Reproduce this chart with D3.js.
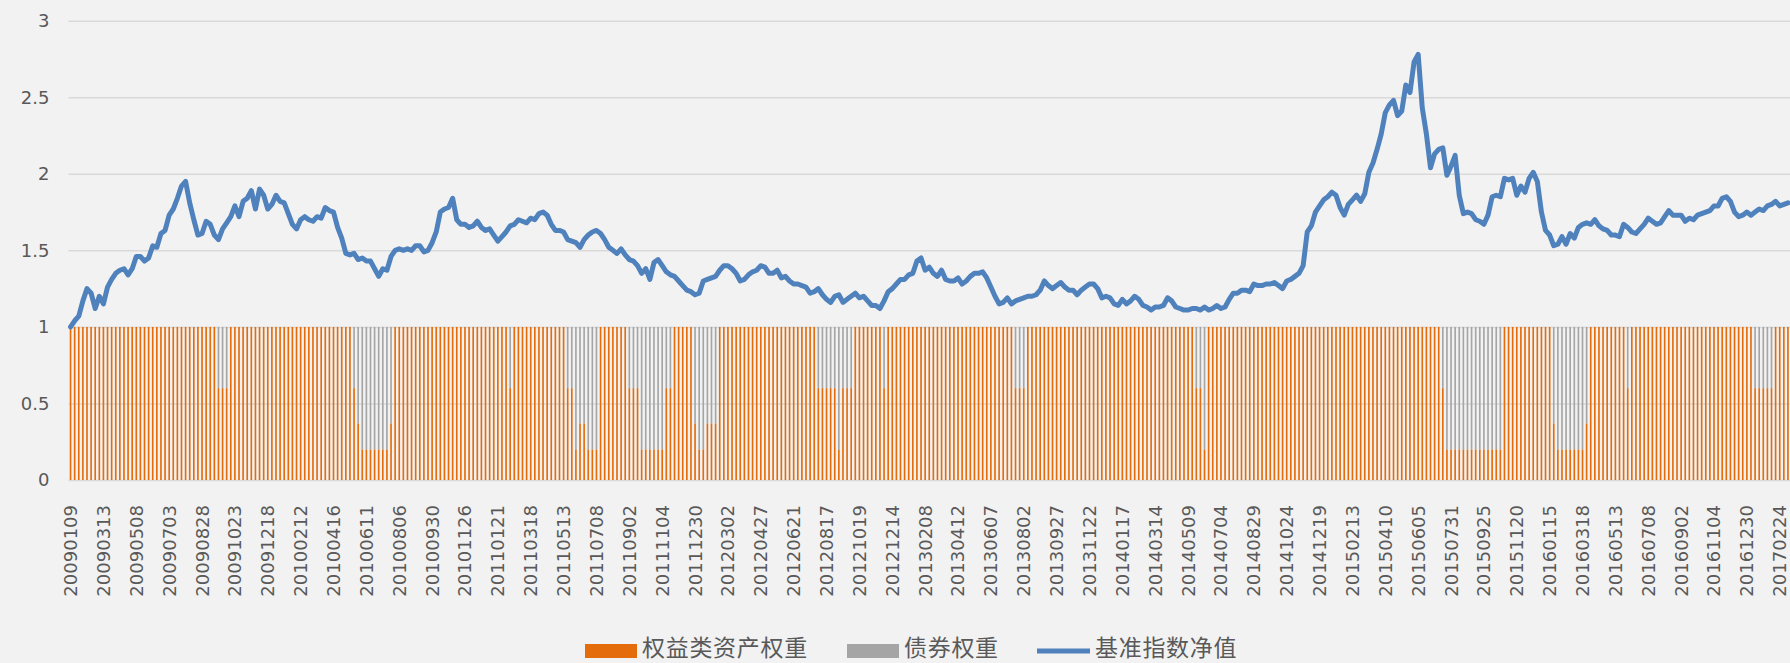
<!DOCTYPE html>
<html>
<head>
<meta charset="utf-8">
<script src="https://cdn.jsdelivr.net/npm/d3@7/dist/d3.min.js"></script>
<style>
	html, body { margin: 0; padding: 0; background: #f2f2f2; }
	svg { display: block; }
</style>
</head>
<body>
<svg id="chart" width="1790" height="663"></svg>
<script>
// x-axis labels, one every 8 weeks
const tickLabels = [
	'20090109', '20090313', '20090508', '20090703', '20090828', '20091023', '20091218',
	'20100212', '20100416', '20100611', '20100806', '20100930', '20101126',
	'20110121', '20110318', '20110513', '20110708', '20110902', '20111104', '20111230',
	'20120302', '20120427', '20120621', '20120817', '20121019', '20121214',
	'20130208', '20130412', '20130607', '20130802', '20130927', '20131122',
	'20140117', '20140314', '20140509', '20140704', '20140829', '20141024', '20141219',
	'20150213', '20150410', '20150605', '20150731', '20150925', '20151120',
	'20160115', '20160318', '20160513', '20160708', '20160902', '20161104', '20161230',
	'20170224'
]
const tickEvery = 8

// 基准指数净值, weekly
const navValues = [
	1.00, 1.04, 1.07, 1.17, 1.25, 1.22, 1.12, 1.20, 1.15, 1.26,
	1.31, 1.35, 1.37, 1.38, 1.34, 1.38, 1.46, 1.46, 1.43, 1.45,
	1.53, 1.52, 1.61, 1.63, 1.73, 1.77, 1.84, 1.92, 1.95, 1.81,
	1.70, 1.60, 1.61, 1.69, 1.67, 1.60, 1.57, 1.64, 1.68, 1.72,
	1.79, 1.72, 1.82, 1.84, 1.89, 1.77, 1.90, 1.86, 1.77, 1.80,
	1.86, 1.82, 1.81, 1.74, 1.67, 1.64, 1.70, 1.72, 1.70, 1.69,
	1.72, 1.71, 1.78, 1.76, 1.75, 1.65, 1.58, 1.48, 1.47, 1.48,
	1.44, 1.45, 1.43, 1.43, 1.38, 1.33, 1.38, 1.37, 1.46, 1.50,
	1.51, 1.50, 1.51, 1.50, 1.53, 1.53, 1.49, 1.50, 1.55, 1.62,
	1.75, 1.77, 1.78, 1.84, 1.70, 1.67, 1.67, 1.65, 1.66, 1.69,
	1.65, 1.63, 1.64, 1.60, 1.56, 1.59, 1.62, 1.66, 1.67, 1.70,
	1.69, 1.68, 1.71, 1.70, 1.74, 1.75, 1.73, 1.67, 1.63, 1.63,
	1.62, 1.57, 1.56, 1.55, 1.52, 1.57, 1.60, 1.62, 1.63, 1.61,
	1.57, 1.52, 1.50, 1.48, 1.51, 1.47, 1.44, 1.43, 1.40, 1.35,
	1.38, 1.31, 1.42, 1.44, 1.40, 1.36, 1.34, 1.33, 1.30, 1.27,
	1.24, 1.23, 1.21, 1.22, 1.30, 1.31, 1.32, 1.33, 1.37, 1.40,
	1.40, 1.38, 1.35, 1.30, 1.31, 1.34, 1.36, 1.37, 1.40, 1.39,
	1.35, 1.35, 1.37, 1.32, 1.33, 1.30, 1.28, 1.28, 1.27, 1.26,
	1.22, 1.23, 1.25, 1.21, 1.18, 1.16, 1.20, 1.21, 1.16, 1.18,
	1.20, 1.22, 1.19, 1.20, 1.17, 1.14, 1.14, 1.12, 1.17, 1.23,
	1.25, 1.28, 1.31, 1.31, 1.34, 1.35, 1.43, 1.45, 1.37, 1.39,
	1.35, 1.33, 1.37, 1.31, 1.30, 1.30, 1.32, 1.28, 1.30, 1.33,
	1.35, 1.35, 1.36, 1.32, 1.26, 1.20, 1.15, 1.16, 1.19, 1.15,
	1.17, 1.18, 1.19, 1.20, 1.20, 1.21, 1.24, 1.30, 1.27, 1.25,
	1.27, 1.29, 1.26, 1.24, 1.24, 1.21, 1.24, 1.26, 1.28, 1.28,
	1.25, 1.19, 1.20, 1.19, 1.15, 1.14, 1.18, 1.15, 1.17, 1.20,
	1.18, 1.14, 1.13, 1.11, 1.13, 1.13, 1.14, 1.19, 1.17, 1.13,
	1.12, 1.11, 1.11, 1.12, 1.12, 1.11, 1.13, 1.11, 1.12, 1.14,
	1.12, 1.13, 1.18, 1.22, 1.22, 1.24, 1.24, 1.23, 1.28, 1.27,
	1.27, 1.28, 1.28, 1.29, 1.27, 1.25, 1.30, 1.31, 1.33, 1.35,
	1.40, 1.62, 1.66, 1.75, 1.79, 1.83, 1.85, 1.88, 1.86, 1.78,
	1.73, 1.80, 1.83, 1.86, 1.82, 1.87, 2.01, 2.07, 2.16, 2.26,
	2.40, 2.45, 2.48, 2.38, 2.41, 2.58, 2.53, 2.73, 2.78, 2.43,
	2.26, 2.04, 2.13, 2.16, 2.17, 1.99, 2.05, 2.12, 1.86, 1.74,
	1.75, 1.74, 1.70, 1.69, 1.67, 1.73, 1.85, 1.86, 1.85, 1.97,
	1.96, 1.97, 1.86, 1.92, 1.88, 1.97, 2.01, 1.95, 1.75, 1.63,
	1.60, 1.53, 1.54, 1.59, 1.54, 1.61, 1.58, 1.65, 1.67, 1.68,
	1.67, 1.70, 1.66, 1.64, 1.63, 1.60, 1.60, 1.59, 1.67, 1.65,
	1.62, 1.61, 1.64, 1.67, 1.71, 1.69, 1.67, 1.68, 1.72, 1.76,
	1.73, 1.73, 1.73, 1.69, 1.71, 1.70, 1.73, 1.74, 1.75, 1.76,
	1.79, 1.79, 1.84, 1.85, 1.82, 1.75, 1.72, 1.73, 1.75, 1.73,
	1.75, 1.77, 1.76, 1.79, 1.80, 1.82, 1.79, 1.80, 1.81
]

// 权益类资产权重 as runs of [weight, number of weeks]; 债券权重 is the rest up to 1
const equityRuns = [
	[1, 36], [0.6, 3], [1, 30], [0.6, 1], [0.37, 1], [0.2, 7], [0.37, 1],
	[1, 28], [0.6, 1], [1, 13], [0.6, 2], [0.2, 1], [0.37, 2], [0.2, 3],
	[1, 7], [0.6, 3], [0.2, 6], [0.6, 2], [1, 5], [0.37, 1], [0.2, 2], [0.37, 3],
	[1, 24], [0.6, 5], [0.2, 1], [0.6, 3], [1, 7], [0.6, 1], [1, 31], [0.6, 3],
	[1, 41], [0.6, 2], [0.2, 1], [1, 57], [0.6, 1], [0.2, 14], [1, 12],
	[0.37, 1], [0.2, 7], [0.37, 1], [1, 9], [0.6, 1], [1, 30], [0.6, 5], [1, 4]
]

const yTicks = [0, 0.5, 1, 1.5, 2, 2.5, 3]

const seriesNames = ['权益类资产权重', '债券权重', '基准指数净值']
const colors = { equity: '#e46c0a', bond: '#a5a5a5', nav: '#4f81bd', text: '#595959', grid: '#d9d9d9' }

let config = {
	left: 68.5,
	right: 1790,
	top: 20.7,
	bottom: 480,
}

let equity = equityRuns.flatMap(r => Array(r[1]).fill(r[0]))
let rows = navValues.map((v, i) => ({ i: i, nav: v, equity: equity[i], bond: 1 - equity[i] }))

let svg = d3.select('#chart')

let x = d3.scaleBand()
	.domain(rows.map(d => d.i))
	.range([config.left, config.right])
	.paddingInner(0.6)
	.paddingOuter(0.3)

let y = d3.scaleLinear()
	.domain([0, 3])
	.range([config.bottom, config.top])

function drawGrid() {
	let g = svg.append('g')
		.attr('transform', `translate(${config.left},0)`)
		.call(d3.axisLeft(y).tickValues(yTicks).tickSize(-(config.right - config.left)).tickPadding(19).tickFormat(d3.format('')))
	g.select('.domain').remove()
	g.selectAll('.tick line').attr('stroke', colors.grid).attr('stroke-width', 1.5)
	g.selectAll('.tick text')
		.attr('fill', colors.text)
		.attr('font-family', 'DejaVu Sans')
		.attr('font-size', 18)
}

function drawBars() {
	let stack = d3.stack().keys(['equity', 'bond'])(rows)
	svg.append('g').selectAll('g')
		.data(stack)
		.join('g')
		.attr('fill', s => colors[s.key])
		.selectAll('rect')
		.data(s => s.filter(d => d[1] > d[0]))
		.join('rect')
		.attr('x', d => x(d.data.i))
		.attr('width', x.bandwidth())
		.attr('y', d => y(d[1]))
		.attr('height', d => y(d[0]) - y(d[1]))
}

function drawLine() {
	let line = d3.line()
		.x(d => x(d.i) + x.bandwidth() / 2)
		.y(d => y(d.nav))
	svg.append('path')
		.datum(rows)
		.attr('d', line)
		.attr('fill', 'none')
		.attr('stroke', colors.nav)
		.attr('stroke-width', 5)
		.attr('stroke-linejoin', 'round')
		.attr('stroke-linecap', 'round')
}

function drawXAxis() {
	let g = svg.append('g')
		.attr('transform', `translate(0,${config.bottom})`)
		.call(d3.axisBottom(x)
			.tickValues(rows.filter(d => d.i % tickEvery === 0).map(d => d.i))
			.tickSize(0)
			.tickFormat(i => tickLabels[i / tickEvery]))
	g.select('.domain').remove()
	g.selectAll('.tick text')
		.attr('fill', colors.text)
		.attr('font-family', 'DejaVu Sans')
		.attr('font-size', 18)
		.attr('text-anchor', 'end')
		.attr('transform', 'rotate(-90)')
		.attr('x', -25)
		.attr('y', 0)
		.attr('dy', '0.36em')
}

function drawLegend() {
	let g = svg.append('g')
		.attr('font-family', 'Noto Sans CJK SC')
		.attr('font-size', 23)
		.attr('letter-spacing', 0.7)
		.attr('fill', colors.text)
	let cy = 651
	let baseline = 656
	g.append('rect').attr('x', 585).attr('y', cy - 7).attr('width', 52).attr('height', 14).attr('fill', colors.equity)
	g.append('text').attr('x', 642).attr('y', baseline).text(seriesNames[0])
	g.append('rect').attr('x', 847).attr('y', cy - 7).attr('width', 52).attr('height', 14).attr('fill', colors.bond)
	g.append('text').attr('x', 904).attr('y', baseline).text(seriesNames[1])
	g.append('line').attr('x1', 1037).attr('x2', 1090).attr('y1', cy).attr('y2', cy)
		.attr('stroke', colors.nav).attr('stroke-width', 5)
	g.append('text').attr('x', 1095).attr('y', baseline).text(seriesNames[2])
}

drawGrid()
drawBars()
drawLine()
drawXAxis()
drawLegend()
</script>
</body>
</html>
